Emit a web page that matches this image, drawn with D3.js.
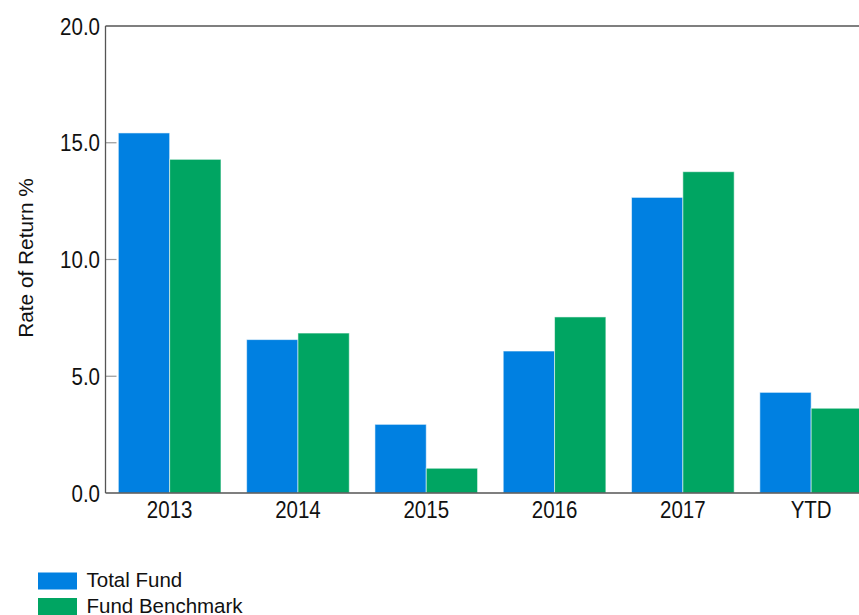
<!DOCTYPE html>
<html>
<head>
<meta charset="utf-8">
<script src="https://cdn.jsdelivr.net/npm/d3@7"></script>
<style>
  html, body { margin: 0; padding: 0; background: #fff; overflow: hidden; }
  svg text { font-family: "Liberation Sans", Arial, sans-serif; fill: #111; }
</style>
</head>
<body>
<svg id="chart" width="859" height="615"></svg>
<script>
// chart values
const categories = ["2013", "2014", "2015", "2016", "2017", "YTD"];
const seriesNames = ["Total Fund", "Fund Benchmark"];
const totalFund = [15.42, 6.57, 2.94, 6.08, 12.66, 4.31];
const fundBenchmark = [14.29, 6.85, 1.06, 7.54, 13.76, 3.63];
const yTicks = [0, 5, 10, 15, 20];
const colors = ["#0080E1", "#00A562"];

const svg = d3.select("#chart");

const plotLeft = 105.5, plotTop = 26, plotBottom = 493;
const step = 128.3;
const stretch = 1.17; // tick labels look a bit tall in the original

// x scale runs past the right edge of the window, like the original
let xScale = d3.scaleBand()
    .domain(categories)
    .range([plotLeft, plotLeft + step * categories.length])
    .paddingInner(0.2)
    .paddingOuter(0.1);

let xInner = d3.scaleBand()
    .domain(seriesNames)
    .range([0, xScale.bandwidth()]);

let yScale = d3.scaleLinear()
    .domain([0, 20])
    .range([plotBottom, plotTop]);

let rows = categories.map((c, i) => ({
    cat: c,
    values: [
        {name: seriesNames[0], value: totalFund[i]},
        {name: seriesNames[1], value: fundBenchmark[i]}
    ]
}));

// inward grey ticks
svg.append("g")
    .selectAll("line")
    .data(yTicks.filter(t => t > 0 && t < 20))
    .enter()
    .append("line")
        .attr("x1", plotLeft)
        .attr("x2", plotLeft + 11)
        .attr("y1", d => yScale(d))
        .attr("y2", d => yScale(d))
        .attr("stroke", "#999")
        .attr("stroke-width", 1.2);

// bars
let groups = svg.append("g").attr("id", "bars")
    .selectAll("g")
    .data(rows)
    .enter()
    .append("g")
        .attr("transform", d => "translate(" + xScale(d.cat) + ",0)");

groups.selectAll("rect")
    .data(d => d.values)
    .enter()
    .append("rect")
        .attr("x", d => xInner(d.name))
        .attr("y", d => yScale(d.value))
        .attr("width", xInner.bandwidth())
        .attr("height", d => yScale(0) - yScale(d.value))
        .attr("fill", (d, i) => colors[i])
        .attr("stroke", "rgba(255,255,255,0.55)")
        .attr("stroke-width", 1);

// frame lines: left axis, top, bottom
svg.append("line")
    .attr("x1", plotLeft).attr("x2", plotLeft)
    .attr("y1", plotTop).attr("y2", plotBottom)
    .attr("stroke", "#555").attr("stroke-width", 1.3);
svg.append("line")
    .attr("x1", plotLeft).attr("x2", 859)
    .attr("y1", plotTop).attr("y2", plotTop)
    .attr("stroke", "#555").attr("stroke-width", 1.3);
svg.append("line")
    .attr("x1", plotLeft).attr("x2", 859)
    .attr("y1", plotBottom).attr("y2", plotBottom)
    .attr("stroke", "#555").attr("stroke-width", 1.3);

// y tick labels
svg.append("g")
    .selectAll("text")
    .data(yTicks)
    .enter()
    .append("text")
        .attr("transform", d => "translate(100," + yScale(d) + ") scale(1," + stretch + ")")
        .attr("dy", "0.36em")
        .attr("text-anchor", "end")
        .attr("font-size", 20.5)
        .text(d => d3.format(".1f")(d));

// x labels
svg.append("g")
    .selectAll("text")
    .data(categories)
    .enter()
    .append("text")
        .attr("transform", d => "translate(" + (xScale(d) + xScale.bandwidth() / 2) + ",517.5) scale(1," + stretch + ")")
        .attr("text-anchor", "middle")
        .attr("font-size", 20.5)
        .text(d => d);

// y axis title
svg.append("text")
    .attr("transform", "translate(33," + 258 + ") rotate(-90)")
    .attr("text-anchor", "middle")
    .attr("font-size", 20.8)
    .text("Rate of Return %");

// legend
let legend = svg.append("g")
    .selectAll("g")
    .data(seriesNames)
    .enter()
    .append("g")
        .attr("transform", (d, i) => "translate(38," + (572.5 + i * 25.5) + ")");

legend.append("rect")
    .attr("width", 39)
    .attr("height", 17)
    .attr("fill", (d, i) => colors[i]);

legend.append("text")
    .attr("x", 48.5)
    .attr("y", 14.5)
    .attr("font-size", 20.5)
    .text(d => d);
</script>
</body>
</html>
